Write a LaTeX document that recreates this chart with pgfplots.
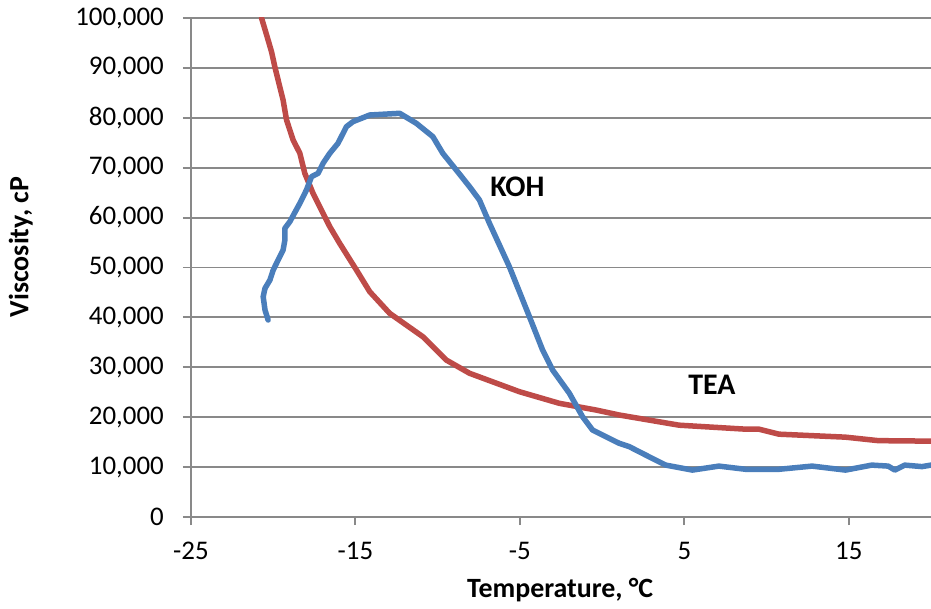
\documentclass[border=0pt]{standalone}
\usepackage{fontspec}
\setmainfont{Carlito}
\usepackage{pgfplots}
\pgfplotsset{compat=1.18}

\definecolor{koh}{HTML}{4A7EBB}
\definecolor{tea}{HTML}{BE4B48}
\definecolor{gridgray}{HTML}{898989}

\begin{document}
\fontsize{27}{32}\selectfont
\begin{tikzpicture}
\begin{axis}[
    scale only axis, width=740bp, height=499bp,
    xmin=-25, xmax=20, ymin=0, ymax=100000,
    xtick={-25,-15,-5,5,15},
    xticklabels={-25,-15,-5,5,15},
    ytick={0,10000,20000,30000,40000,50000,60000,70000,80000,90000,100000},
    yticklabels={0,{10,000},{20,000},{30,000},{40,000},{50,000},{60,000},{70,000},{80,000},{90,000},{100,000}},
    axis lines=left, axis line style={-, gridgray, line width=2pt},
    tick align=outside, major tick length=8bp,
    tick style={gridgray, line width=2pt},
    ymajorgrids, grid style={gridgray, line width=2pt},
    scaled y ticks=false,
    ticklabel style={font=\fontsize{27}{32}\selectfont},
    yticklabel style={xshift=-10bp},
    xticklabel style={yshift=-8bp},
    xlabel={\textbf{Temperature, °C}},
    ylabel={\textbf{Viscosity, cP}},
    xlabel style={at={(axis description cs:0.499,-0.146)}, anchor=center},
    ylabel style={at={(axis description cs:-0.23,0.541)}, anchor=center},
    label style={font=\fontsize{28}{32}\selectfont},
]
% TEA
\addplot[tea, line width=5.5bp, line join=round, line cap=round] coordinates {
 (-20.71,100000) (-20.37,96250) (-20.1,93200) (-19.9,90200) (-19.6,86200)
 (-19.4,83570) (-19.19,79560) (-18.79,75550) (-18.38,72890) (-18.08,68880)
 (-17.58,64870) (-16.97,60860) (-16.56,58180) (-15.96,54850) (-14.94,49500)
 (-14.13,45150) (-12.92,40820) (-10.9,36130) (-9.48,31460) (-8.06,28800)
 (-5.03,25110) (-2.6,22780) (-0.37,21440) (1.04,20440) (4.68,18400)
 (8.73,17600) (9.54,17600) (10.75,16600) (14.8,16000) (16.8,15300) (20,15200)
};
% KOH
\addplot[koh, line width=5.5bp, line join=round, line cap=round] coordinates {
 (-20.31,39480) (-20.5,41480) (-20.61,44150) (-20.5,45830) (-20.2,47490)
 (-20.0,49500) (-19.7,51500) (-19.4,53500) (-19.29,55500) (-19.29,57860)
 (-18.99,59180) (-18.38,62870) (-17.98,65530) (-17.67,68200) (-17.27,68880)
 (-16.97,70880) (-16.56,72890) (-16.06,74890) (-15.55,78220) (-15.15,79220)
 (-14.13,80560) (-12.31,80900) (-11.3,78900) (-10.29,76210) (-9.69,72890)
 (-8.87,69540) (-8.06,66190) (-7.46,63530) (-6.85,58860) (-5.64,50160)
 (-4.42,40140) (-3.62,33470) (-3.01,29460) (-1.99,24790) (-1.19,20100)
 (-0.58,17430) (0.23,16090) (1.04,14770) (1.65,14100) (2.66,12400)
 (3.87,10400) (5.49,9400) (7.1,10200) (8.73,9560) (10.75,9560)
 (12.77,10200) (14.8,9400) (16.4,10400) (17.4,10200) (17.8,9400)
 (18.4,10400) (19.45,10100) (20,10400)
};
\node[font=\fontsize{30}{34}\selectfont\bfseries] at (axis cs:-5.15,66100) {KOH};
\node[font=\fontsize{30}{34}\selectfont\bfseries] at (axis cs:6.68,26500) {TEA};
\end{axis}
\pgfresetboundingbox
\path ([xshift=-191bp,yshift=-92bp]current axis.south west) rectangle ([yshift=18bp]current axis.north east);
\end{tikzpicture}
\end{document}
